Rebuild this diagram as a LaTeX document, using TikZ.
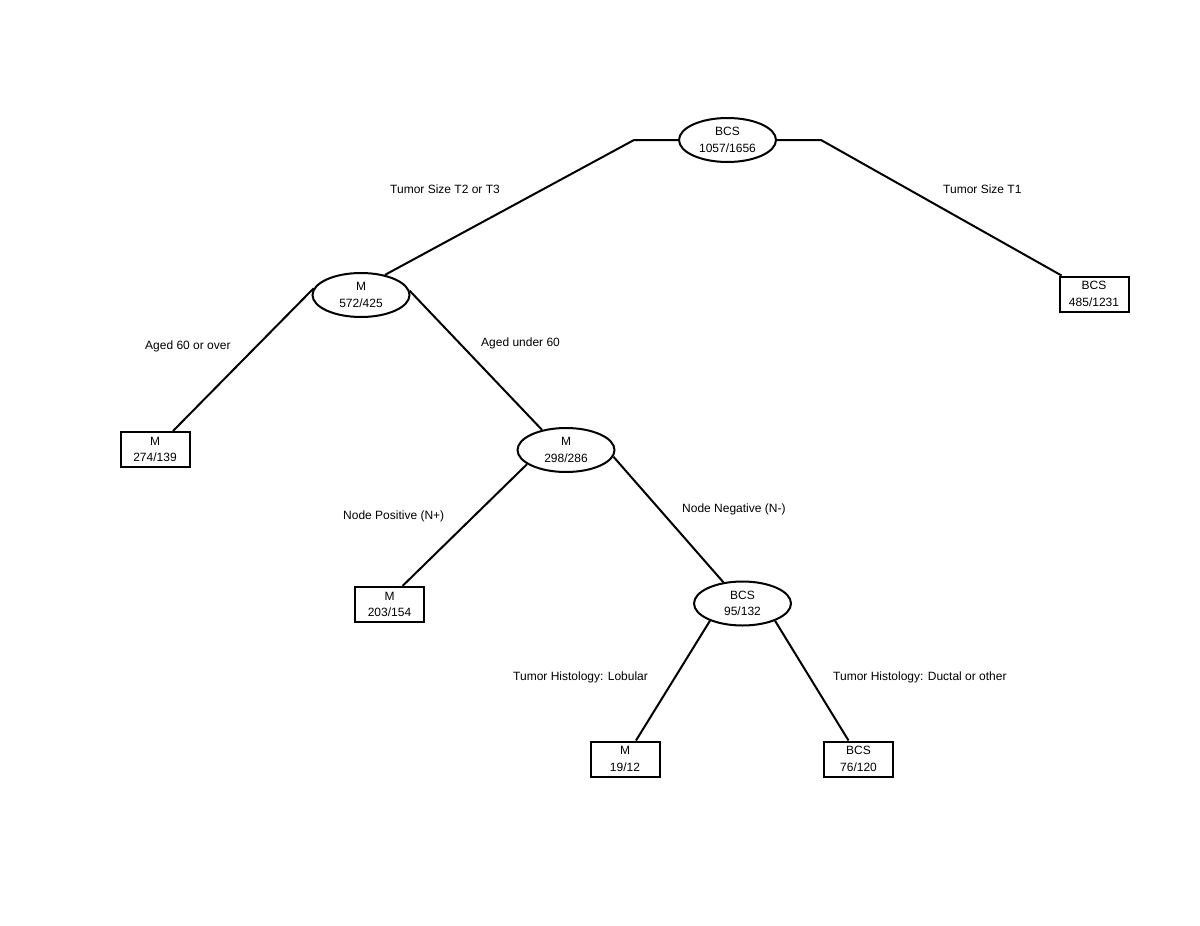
\documentclass[tikz,border=0pt]{standalone}
\usepackage{fontspec}
\setmainfont{Liberation Sans}
\usetikzlibrary{shapes.geometric}
\begin{document}
\begin{tikzpicture}[x=1pt,y=-1pt,
  every node/.style={font=\fontsize{12}{16.5}\selectfont, align=center},
  ell/.style={draw, line width=2pt, ellipse, minimum width=97pt, minimum height=44pt, inner sep=0pt},
  leaf/.style={draw, line width=2pt, rectangle, minimum width=69pt, minimum height=35pt, inner sep=0pt},
  edge/.style={line width=2pt},
  lbl/.style={inner sep=0pt, anchor=west}]
\useasboundingbox (0,0) rectangle (1200,926);
\node[ell] (root) at (727.5,140) {BCS\\1057/1656};
\node[ell] (m1) at (361,295) {M\\572/425};
\node[leaf] (t1) at (1094,294) {BCS\\485/1231};
\node[leaf] (a60) at (155,449.5) {M\\274/139};
\node[ell] (m2) at (566,450) {M\\298/286};
\node[leaf] (np) at (389.5,604.5) {M\\203/154};
\node[ell] (b2) at (742.5,603.5) {BCS\\95/132};
\node[leaf] (lob) at (625,759) {M\\19/12};
\node[leaf] (duct) at (858.5,759) {BCS\\76/120};

\draw[edge] (root.west) -- ++(-44,0) -- (m1.40);
\draw[edge] (root.east) -- ++(44,0) -- ([xshift=3pt]t1.north west);
\draw[edge] (m1.172) -- ([xshift=18pt]a60.north);
\draw[edge] (m1.5) -- (m2.140);
\draw[edge] (m2.200) -- ([xshift=13pt]np.north);
\draw[edge] (m2.-8) -- (b2.132);
\draw[edge] (b2.208) -- ([xshift=11pt]lob.north);
\draw[edge] (b2.332) -- ([xshift=-10pt]duct.north);

\node[lbl] (l1) at (390,189) {Tumor Size T2 or T3};
\node[lbl] (l2) at (943,189) {Tumor Size T1};
\node[lbl] (l3) at (145,346) {Aged 60 or over};
\node[lbl] (l4) at (481,343) {Aged under 60};
\node[lbl] (l5) at (343,516) {Node Positive (N+)};
\node[lbl] (l6) at (682,509) {Node Negative (N-)};
\node[lbl] (l7) at (513,677) {Tumor Histology: Lobular};
\node[lbl] (l8) at (833,677) {Tumor Histology: Ductal or other};
\end{tikzpicture}
\end{document}
